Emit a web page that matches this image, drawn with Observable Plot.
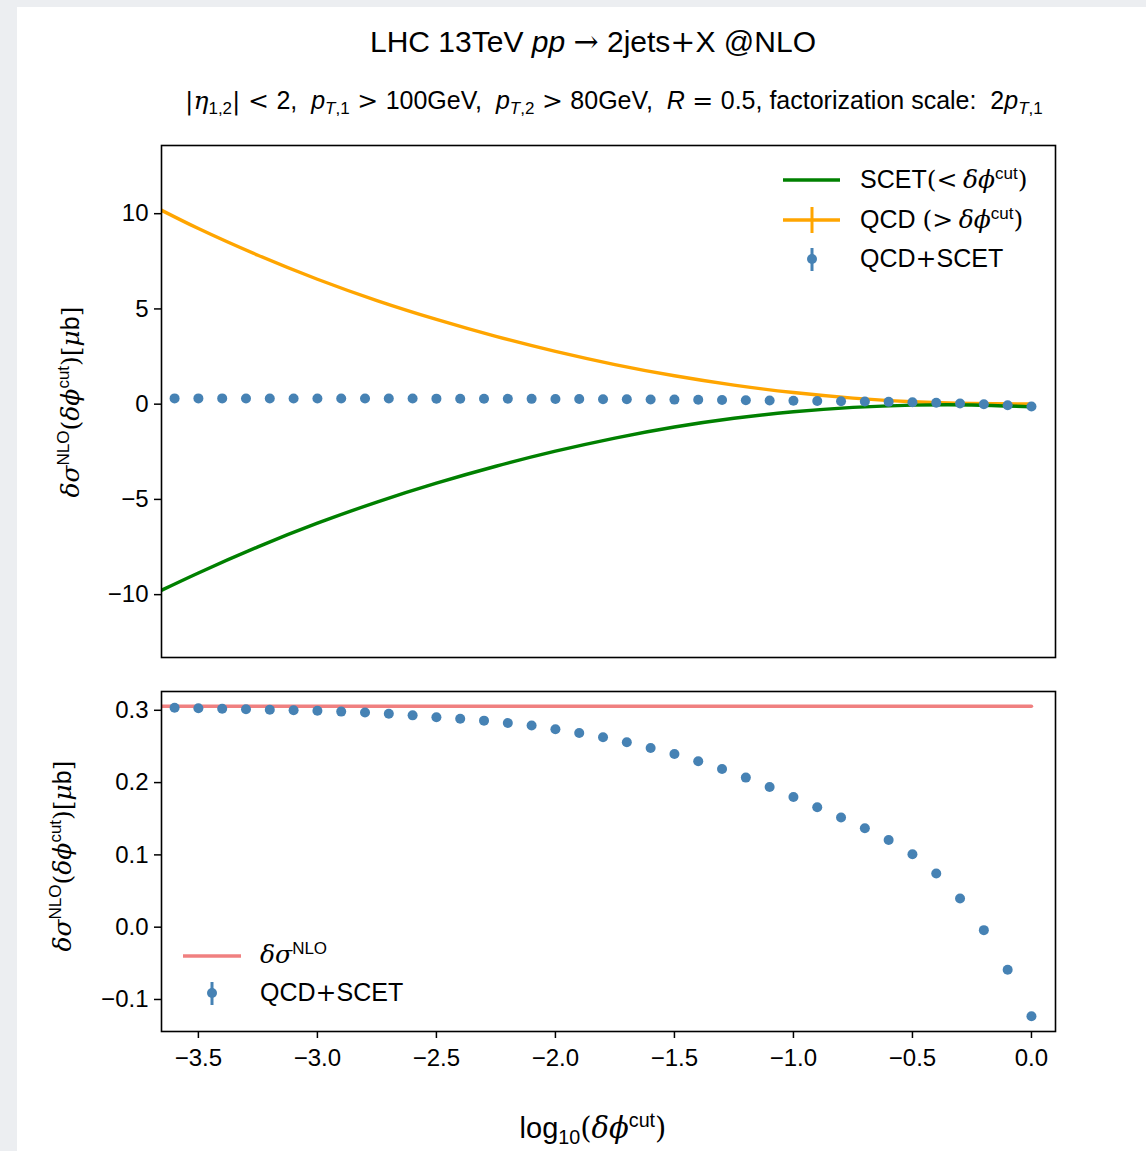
<!DOCTYPE html>
<html><head><meta charset="utf-8">
<script src="https://cdn.jsdelivr.net/npm/d3@7"></script>
<script src="https://cdn.jsdelivr.net/npm/@observablehq/plot@0.6"></script>
<style>
html,body{margin:0;padding:0;background:#eceef1;}
#root{position:absolute;left:0;top:0;width:1146px;height:1151px;font-family:"Liberation Sans",sans-serif;color:#000;overflow:hidden;}
#page{position:absolute;left:17px;top:7px;width:1129px;height:1144px;background:#fff;}
.abs{position:absolute;white-space:pre;line-height:1;}
.m{font-family:"DejaVu Serif","Liberation Serif",serif;font-style:italic;}
.mr{font-family:"DejaVu Serif","Liberation Serif",serif;}
.rel{font-family:"DejaVu Serif","Liberation Serif",serif;padding:0 0.22em;}
.sub .rel{padding:0 0.3em;}
sup{font-size:0.68em;vertical-align:0.55em;line-height:0;}
sub{font-size:0.68em;vertical-align:-0.3em;line-height:0;}
svg.p{position:absolute;left:0;}
</style></head>
<body>
<div id="root">
<div id="page"></div>
</div>
<script>
// ---- data ----
const pointX = [-3.6,-3.5,-3.4,-3.3,-3.2,-3.1,-3.0,-2.9,-2.8,-2.7,-2.6,-2.5,-2.4,-2.3,-2.2,-2.1,-2.0,-1.9,-1.8,-1.7,-1.6,-1.5,-1.4,-1.3,-1.2,-1.1,-1.0,-0.9,-0.8,-0.7,-0.6,-0.5,-0.4,-0.3,-0.2,-0.1,0.0];
const qcdPlusScet = [0.3035,0.3028,0.3022,0.3015,0.3008,0.3000,0.2993,0.2982,0.2970,0.2952,0.2930,0.2903,0.2882,0.2857,0.2825,0.2790,0.2737,0.2686,0.2627,0.2557,0.2479,0.2396,0.2295,0.2188,0.2069,0.1939,0.1800,0.1658,0.1516,0.1368,0.1206,0.1008,0.0742,0.0396,-0.0041,-0.0589,-0.1232];
const curveX = [-3.7,-3.5,-3.25,-3.0,-2.75,-2.5,-2.25,-2.0,-1.75,-1.5,-1.25,-1.0,-0.75,-0.5,-0.25,0.0];
const qcdAbove = [10.47,9.22,7.82,6.56,5.44,4.45,3.56,2.77,2.08,1.49,1.00,0.61,0.32,0.13,0.04,0.01];
const scetBelow = [-10.04,-8.86,-7.49,-6.25,-5.14,-4.15,-3.26,-2.47,-1.78,-1.20,-0.74,-0.40,-0.17,-0.05,-0.04,-0.14];
const nloX = [-3.7, 0.0];
const nloValue = 0.3055;
const topYTicks = [-10,-5,0,5,10];
const botYTicks = [-0.1,0.0,0.1,0.2,0.3];
const xTicks = [-3.5,-3.0,-2.5,-2.0,-1.5,-1.0,-0.5,0.0];

// ---- tables ----
const points = pointX.map((x,i)=>({x, v:qcdPlusScet[i]}));
const curves = curveX.map((x,i)=>({x, qcd:qcdAbove[i], scet:scetBelow[i]}));
const nloRows = nloX.map(x=>({x, v:nloValue}));

const root = document.getElementById("root");
const xDomain = [-3.655, 0.101];
const common = {width:1146, marginLeft:161, marginRight:91, style:{fontFamily:"Liberation Sans", background:"transparent", color:"#000", overflow:"visible"}};

const topPlot = Plot.plot({
  ...common, height:552, marginTop:10, marginBottom:30,
  x:{domain:xDomain, axis:null},
  y:{domain:[-13.3,13.58]},
  marks:[
    Plot.line(curves,{x:"x",y:"qcd",stroke:"orange",strokeWidth:3.4,curve:"natural",clip:true}),
    Plot.line(curves,{x:"x",y:"scet",stroke:"green",strokeWidth:3.4,curve:"natural",clip:true}),
    Plot.dot(points,{x:"x",y:"v",r:5,fill:"steelblue",stroke:"none"}),
    Plot.frame({stroke:"#000",strokeWidth:1.6}),
    Plot.axisY({ticks:topYTicks,tickFormat:d3.format("d"),tickSize:7,tickPadding:6,fontSize:24,strokeWidth:1.5,label:null})
  ]
});
topPlot.classList.add("p"); topPlot.style.top="135px";
root.appendChild(topPlot);

const botPlot = Plot.plot({
  ...common, height:400, marginTop:10, marginBottom:50,
  x:{domain:xDomain},
  y:{domain:[-0.1443,0.326]},
  marks:[
    Plot.line(nloRows,{x:"x",y:"v",stroke:"#f08080",strokeWidth:3.5,clip:true}),
    Plot.dot(points,{x:"x",y:"v",r:5,fill:"steelblue",stroke:"none"}),
    Plot.frame({stroke:"#000",strokeWidth:1.6}),
    Plot.axisY({ticks:botYTicks,tickFormat:d3.format(".1f"),tickSize:7,tickPadding:6,fontSize:24,strokeWidth:1.5,label:null}),
    Plot.axisX({ticks:xTicks,tickFormat:d3.format(".1f"),tickSize:7,tickPadding:10,fontSize:24,strokeWidth:1.5,label:null})
  ]
});
botPlot.classList.add("p"); botPlot.style.top="681px";
root.appendChild(botPlot);

// ---- texts ----
function addText(html, css, cls){
  const d=document.createElement("div"); d.className="abs"+(cls?" "+cls:""); d.innerHTML=html;
  Object.assign(d.style, css); root.appendChild(d); return d;
}
const dphi = '<span class="m">δϕ</span><sup>cut</sup>';
addText('LHC 13TeV <i>pp</i> <span class="mr">→</span> 2jets<span class="mr">+</span>X @NLO',{left:"593px",top:"27px",fontSize:"30px",transform:"translateX(-50%)"});
addText('<span class="mr">|</span><span class="m">η</span><sub>1,2</sub><span class="mr">|</span><span class="rel">&lt;</span>2,  <i>p</i><sub><i>T</i>,1</sub><span class="rel">&gt;</span>100GeV,  <i>p</i><sub><i>T</i>,2</sub><span class="rel">&gt;</span>80GeV,  <i>R</i><span class="rel">=</span>0.5, factorization scale:  2<i>p</i><sub><i>T</i>,1</sub>',
  {left:"185px",top:"88px",fontSize:"25px"},"sub");
const ylab = '<span class="m">δσ</span><sup>NLO</sup><span class="mr">(</span>'+dphi+'<span class="mr">)[</span><span class="m">μ</span>b<span class="mr">]</span>';
addText(ylab,{left:"70px",top:"402px",fontSize:"25px",transform:"translate(-50%,-50%) rotate(-90deg)"});
addText(ylab,{left:"62px",top:"856px",fontSize:"25px",transform:"translate(-50%,-50%) rotate(-90deg)"});
addText('log<sub>10</sub><span class="mr">(</span>'+dphi+'<span class="mr">)</span>',{left:"593px",top:"1114px",fontSize:"29px",transform:"translateX(-50%)"});

// legends
addText('SCET<span class="mr">(</span><span class="rel" style="padding-left:0">&lt;</span>'+dphi+'<span class="mr">)</span>',{left:"860px",top:"167px",fontSize:"25px"});
addText('QCD <span class="mr">(</span><span class="rel" style="padding-left:0">&gt;</span>'+dphi+'<span class="mr">)</span>',{left:"860px",top:"207px",fontSize:"25px"});
addText('QCD<span class="mr">+</span>SCET',{left:"860px",top:"246px",fontSize:"25px"});
addText('<span class="m">δσ</span><sup>NLO</sup>',{left:"260px",top:"942px",fontSize:"25px"});
addText('QCD<span class="mr">+</span>SCET',{left:"260px",top:"980px",fontSize:"25px"});

const ns="http://www.w3.org/2000/svg";
const leg=document.createElementNS(ns,"svg");
leg.setAttribute("width",1146); leg.setAttribute("height",1151);
leg.style.position="absolute"; leg.style.left="0"; leg.style.top="0"; leg.style.pointerEvents="none";
leg.innerHTML = `
<line x1="783" x2="840" y1="180" y2="180" stroke="green" stroke-width="3.4"/>
<line x1="783" x2="840" y1="220" y2="220" stroke="orange" stroke-width="3.4"/>
<line x1="812" x2="812" y1="207" y2="233" stroke="orange" stroke-width="3"/>
<line x1="812" x2="812" y1="248" y2="271" stroke="steelblue" stroke-width="3"/>
<circle cx="812" cy="259" r="5" fill="steelblue"/>
<line x1="183" x2="241" y1="956" y2="956" stroke="#f08080" stroke-width="3.5"/>
<line x1="212" x2="212" y1="982" y2="1005" stroke="steelblue" stroke-width="3"/>
<circle cx="212" cy="993" r="5" fill="steelblue"/>`;
root.appendChild(leg);
</script>
</body></html>
